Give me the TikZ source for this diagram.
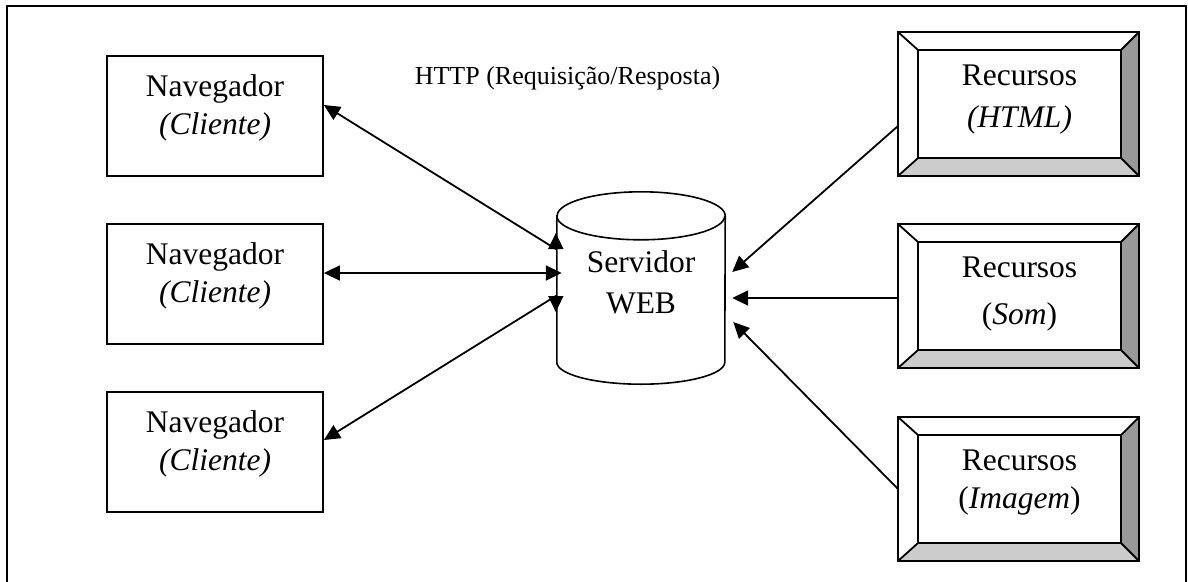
\documentclass[tikz,border=0pt]{standalone}
\usepackage{fontspec}
\setmainfont{Liberation Serif}
\usetikzlibrary{arrows.meta,calc}
\definecolor{bevdark}{HTML}{999999}
\definecolor{bevlight}{HTML}{CCCCCC}

% Bevelled resource frame: #1 name, #2 top edge, #3 second text line, #4 baseline offset of that line
\newcommand\ResBox[4]{%
  \path node[resgeom,minimum width=241pt,minimum height=144pt] (#1) at (1018.5,#2+72) {}
        node[resgeom,minimum width=203pt,minimum height=108pt] (#1i) at (1019.5,#2+72) {};
  \fill[bevdark] (#1.north east) -- (#1i.north east) -- (#1i.south east) -- (#1.south east) -- cycle;
  \fill[bevlight] (#1.south west) -- (#1i.south west) -- (#1i.south east) -- (#1.south east) -- cycle;
  \draw[resline] (#1.north west) rectangle (#1.south east);
  \draw[resline] (#1i.north west) rectangle (#1i.south east);
  \draw[resline] (#1.north west) -- (#1i.north west)
                 (#1.north east) -- (#1i.north east)
                 (#1.south west) -- (#1i.south west)
                 (#1.south east) -- (#1i.south east);
  \node[bigtxt] (#1a) at ($(#1i.north)+(0,35)$) {Recursos};
  \node[bigtxt] (#1b) at ($(#1i.north)+(0,#4)$) {#3};
}

\begin{document}
\begin{tikzpicture}[x=1pt,y=-1pt,
  >={Triangle[length=16pt,width=15pt]},
  client/.style={draw,line width=1.8pt,minimum width=216pt,minimum height=120pt,inner sep=0pt},
  resgeom/.style={inner sep=0pt,outer sep=0pt},
  resline/.style={line width=1.8pt,line join=miter},
  bigtxt/.style={font=\fontsize{31.5}{36}\selectfont,anchor=base,inner sep=0pt},
  conn/.style={line width=1.8pt}]
\useasboundingbox (0,0) rectangle (1188,581);
\clip (0,0) rectangle (1188,581);

% outer frame (its lower edge lies below the page)
\draw[line width=2pt] (7,6) rectangle (1186,600);

% protocol label
\node[font=\fontsize{26}{30}\selectfont,anchor=base,inner sep=0pt] (http) at (567.5,84)
  {HTTP (Requisição/Resposta)};

% browsers
\foreach \n/\y in {c1/116,c2/284,c3/452}{
  \node[client] (\n) at (215,\y) {};
  \node[bigtxt] (\n a) at ($(\n.north)+(0,41)$) {Navegador};
  \node[bigtxt] (\n b) at ($(\n.north)+(0,79)$) {\textit{(Cliente)}};
}

% web server cylinder
\node[inner sep=0pt,minimum width=168pt,minimum height=146pt] (srv) at (641,289) {};
\draw[line width=1.6pt,fill=white]
  (srv.north west) -- (srv.south west)
  arc[start angle=180,end angle=360,x radius=84pt,y radius=22pt]
  -- (srv.north east)
  arc[start angle=0,end angle=180,x radius=84pt,y radius=24pt] -- cycle;
\draw[line width=1.6pt] (srv.north west)
  arc[start angle=180,end angle=360,x radius=84pt,y radius=24pt];
\node[bigtxt] (srva) at (641,272) {Servidor};
\node[bigtxt] (srvb) at (641,313) {WEB};

% resources
\ResBox{r1}{32}{\textit{(HTML)}}{77}
\ResBox{r2}{224}{(\textit{Som})}{82}
\ResBox{r3}{417}{(\textit{Imagem})}{73}

% browser <-> server
\coordinate (s1a) at ($(srv.west)+(-1,-40)$);
\coordinate (s1b) at ($(srv.west)+(-1,-56)$);
\coordinate (s2)  at ($(srv.west)+(5,-16)$);
\coordinate (s3a) at ($(srv.west)+(-1,7)$);
\coordinate (s3b) at ($(srv.west)+(-1,23)$);
\draw[conn,<->] ($(c1.east)+(0,-11)$) -- (s1a) -- (s1b);
\draw[conn,<->] ($(c2.east)+(0,-11)$) -- (s2);
\draw[conn,<->] ($(c3.east)+(0,-12)$) -- (s3a) -- (s3b);

% resources -> server
\coordinate (t1) at ($(srv.east)+(7,-17)$);
\coordinate (t2) at ($(srv.east)+(7,9)$);
\coordinate (t3) at ($(srv.east)+(8,33)$);
\draw[conn,->] ($(r1.west)+(0,22)$) -- (t1);
\draw[conn,->] ($(r2.west)+(0,2)$) -- (t2);
\draw[conn,->] (r3.west) -- (t3);
\end{tikzpicture}
\end{document}
